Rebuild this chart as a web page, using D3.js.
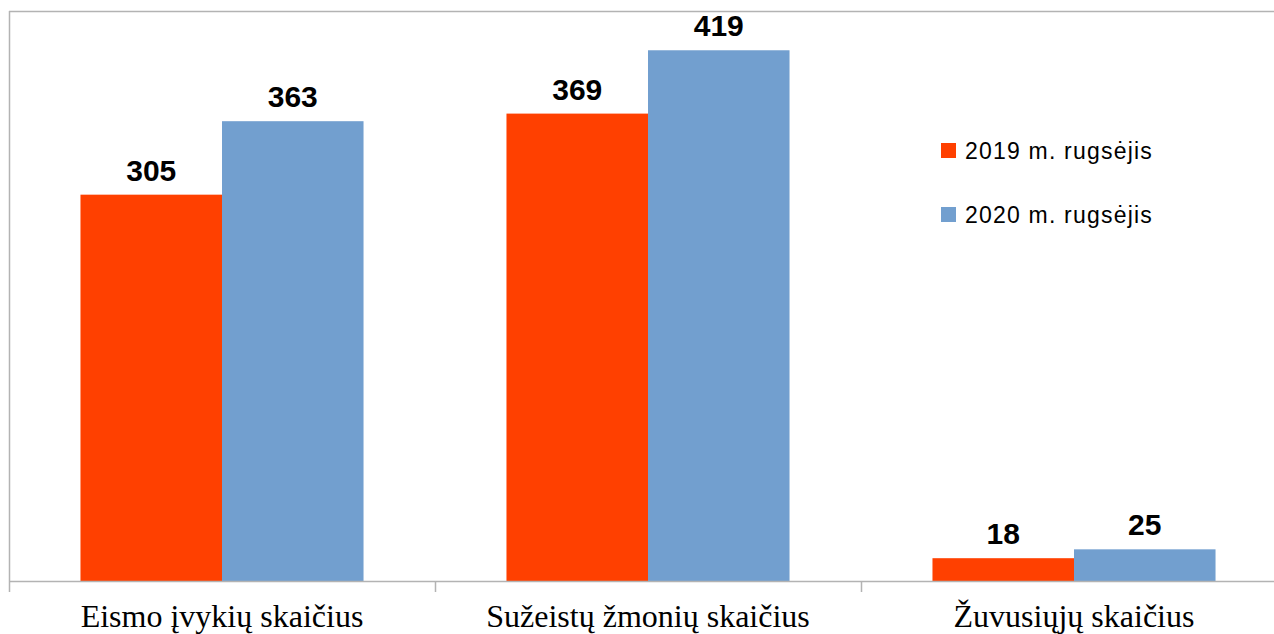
<!DOCTYPE html>
<html>
<head>
<meta charset="utf-8">
<script src="https://cdn.jsdelivr.net/npm/d3@7"></script>
<style>
  body { margin: 0; background: #fff; }
  svg { display: block; }
</style>
</head>
<body>
<svg id="chart" width="1274" height="634"></svg>
<script>
// Chart data
var categories = ["Eismo įvykių skaičius", "Sužeistų žmonių skaičius", "Žuvusiųjų skaičius"];
var seriesNames = ["2019 m. rugsėjis", "2020 m. rugsėjis"];
var values2019 = [305, 369, 18];
var values2020 = [363, 419, 25];
var colors = ["#ff4000", "#729fcf"];

var svg = d3.select("#chart");

// plot frame (right part is cut off by the window)
var plotL = 9, plotR = 1287, plotT = 11, plotB = 581;

var x = d3.scaleBand().domain(categories).range([plotL, plotR]);
var inner = d3.scaleBand().domain(seriesNames).range([0, x.bandwidth()]).paddingOuter(0.505);
var y = d3.scaleLinear().domain([0, 450]).range([plotB, plotT]);

var rows = categories.map(function (c, i) {
	return { cat: c, vals: [values2019[i], values2020[i]] };
});

// frame lines
svg.append("line")
	.attr("x1", plotL).attr("x2", 1274).attr("y1", plotT + 0.5).attr("y2", plotT + 0.5)
	.attr("stroke", "#b3b3b3").attr("stroke-width", 1.5);
svg.append("line")
	.attr("x1", plotL + 0.5).attr("x2", plotL + 0.5).attr("y1", plotT).attr("y2", plotB)
	.attr("stroke", "#b3b3b3").attr("stroke-width", 1.5);

// bars
var groups = svg.selectAll("g.grp")
	.data(rows)
	.enter()
	.append("g")
	.attr("class", "grp")
	.attr("transform", function (d) { return "translate(" + x(d.cat) + ",0)"; });

groups.selectAll("rect")
	.data(function (d) { return d.vals.map(function (v, j) { return { s: seriesNames[j], v: v, j: j }; }); })
	.enter()
	.append("rect")
	.attr("x", function (d) { return inner(d.s); })
	.attr("width", inner.bandwidth())
	.attr("y", function (d) { return y(d.v); })
	.attr("height", function (d) { return plotB - y(d.v); })
	.attr("fill", function (d) { return colors[d.j]; });

groups.selectAll("text.val")
	.data(function (d) { return d.vals.map(function (v, j) { return { s: seriesNames[j], v: v }; }); })
	.enter()
	.append("text")
	.attr("class", "val")
	.attr("x", function (d) { return inner(d.s) + inner.bandwidth() / 2; })
	.attr("y", function (d) { return y(d.v) - 14; })
	.attr("text-anchor", "middle")
	.style("font-family", "'Liberation Sans', Arial, sans-serif")
	.style("font-weight", "bold")
	.style("font-size", "30px")
	.text(function (d) { return d.v; });

// x axis
var xAxis = d3.axisBottom(x).tickSize(0).tickPadding(0);
var ax = svg.append("g").attr("transform", "translate(0," + plotB + ")").call(xAxis);
ax.select(".domain").attr("stroke", "#b3b3b3").attr("stroke-width", 1.5)
	.attr("d", "M" + plotL + ",0.5H1274");
ax.selectAll("text")
	.attr("y", 46)
	.attr("dy", null)
	.style("font-family", "'Liberation Serif', 'Times New Roman', serif")
	.style("font-size", "32px")
	.attr("fill", "#000");

// category separator ticks
svg.selectAll("line.sep")
	.data(categories)
	.enter()
	.append("line")
	.attr("class", "sep")
	.attr("x1", function (d) { return x(d) + 0.5; })
	.attr("x2", function (d) { return x(d) + 0.5; })
	.attr("y1", plotB)
	.attr("y2", plotB + 11)
	.attr("stroke", "#b3b3b3")
	.attr("stroke-width", 1.5);

// legend
var legend = svg.selectAll("g.leg")
	.data(seriesNames)
	.enter()
	.append("g")
	.attr("class", "leg")
	.attr("transform", function (d, i) { return "translate(941," + (143 + i * 64) + ")"; });
legend.append("rect")
	.attr("width", 15).attr("height", 15)
	.attr("fill", function (d, i) { return colors[i]; });
legend.append("text")
	.attr("x", 24).attr("y", 16)
	.style("font-family", "'Liberation Sans', Arial, sans-serif")
	.style("font-size", "23px")
	.style("letter-spacing", "1.2px")
	.text(function (d) { return d; });
</script>
</body>
</html>
